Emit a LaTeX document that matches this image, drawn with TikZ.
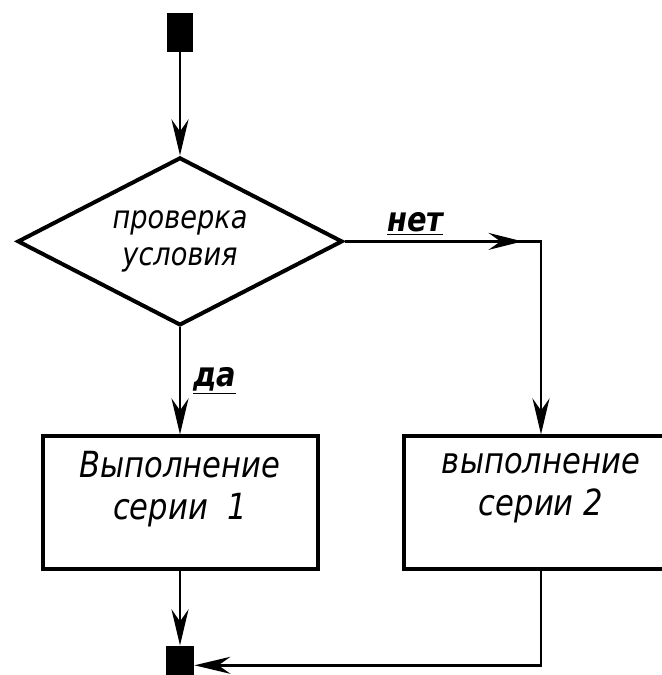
\documentclass[tikz,border=0pt]{standalone}
\usepackage{fontspec}
\setmainfont{DejaVu Sans}[FakeStretch=0.85]
\usetikzlibrary{shapes.geometric, arrows.meta, positioning, decorations.markings}

\begin{document}
\begin{tikzpicture}[
    node distance=51.5pt,
    terminal/.style={rectangle, fill=black, minimum width=13pt, minimum height=19.5pt, inner sep=0pt},
    decision/.style={diamond, aspect=1.93, minimum width=162.5pt, minimum height=84pt, inner sep=0pt, align=center, draw=black, line width=2pt, font=\itshape\fontsize{16}{18.5}\selectfont},
    process/.style={rectangle, minimum width=137.5pt, minimum height=66.5pt, align=center, draw=black, line width=2pt, font=\itshape\fontsize{18}{21}\selectfont},
    answer/.style={inner sep=2pt, font=\bfseries\itshape\fontsize{17}{18}\selectfont},
    line/.style={line width=1.4pt, draw=black},
    arrow/.style={line, -{Stealth[length=18pt, width=8.5pt, inset=6pt]}},
    midtip/.style={postaction={decorate}, decoration={markings, mark=at position #1 with {\arrow{Stealth[length=17pt, width=8.5pt, inset=6pt]}}}}
]

\useasboundingbox (0,0) rectangle (330.5pt,-337.5pt);

\node (start) [terminal] at (90pt,-16.25pt) {};
\node (check) [decision, below=of start] {проверка\\условия};
\node (series1) [process, below=53.5pt of check] {Выполнение\\серии~~1\\[-3pt]};
\node (series2) [process, right=41pt of series1] {выполнение\\серии~2\\[-3pt]};
\node (stop) [terminal, minimum width=14pt, below=37pt of series1] {};
\coordinate (turn) at (series2 |- check);

\draw [arrow] (start) -- (check);
\draw [arrow] (check) -- node [answer, right=4pt] {\underline{да}} (series1);
\draw [arrow, midtip=89pt] (check.east) -- node [answer, above, pos=0.36] {\underline{нет}} (turn) -- (series2);
\draw [arrow] (series1) -- (stop);
\draw [arrow] (series2.south) |- (stop.east);

\end{tikzpicture}
\end{document}
